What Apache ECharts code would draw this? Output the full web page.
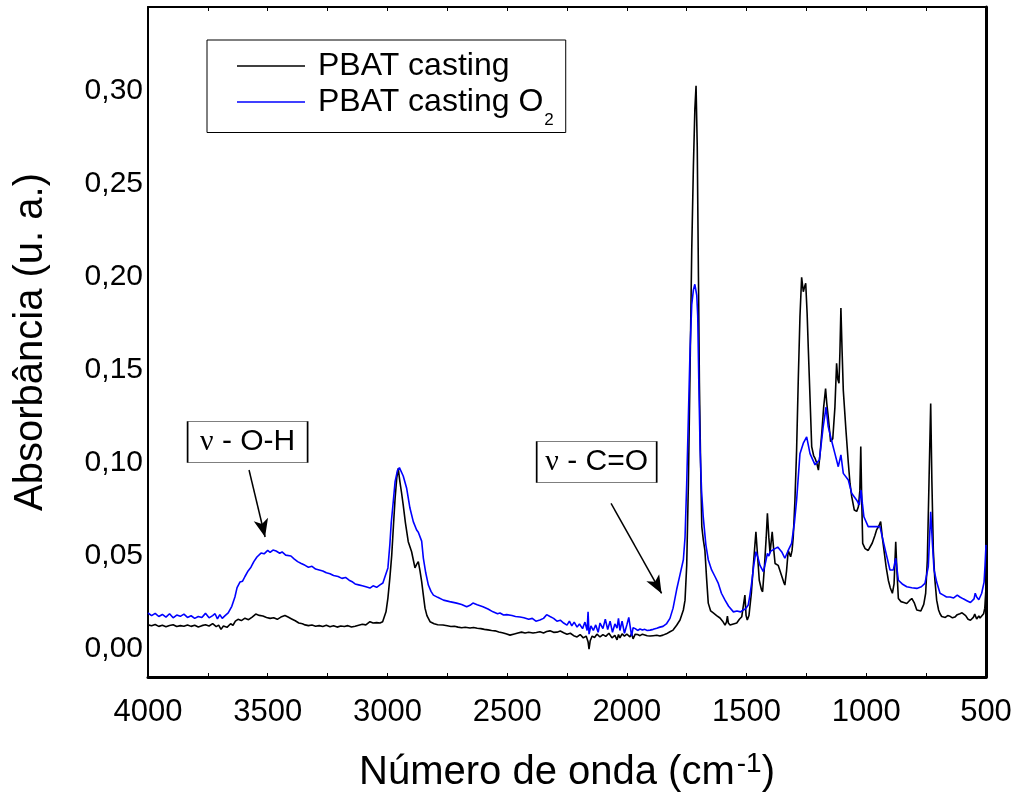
<!DOCTYPE html>
<html>
<head>
<meta charset="utf-8">
<title>FTIR PBAT</title>
<script src="https://cdn.jsdelivr.net/npm/echarts@6/dist/echarts.min.js"></script>
<style>
  html, body { margin: 0; padding: 0; background: #fff; }
  #chart { width: 1014px; height: 796px; }
</style>
</head>
<body>
<div id="chart"></div>
<script>
// FTIR spectra: [wavenumber (cm-1), absorbance]
const pbatCasting = [
  [4000,0.0130],[3985,0.0125],[3970,0.0132],[3955,0.0122],[3940,0.0128],[3925,0.0120],[3910,0.0127],
  [3895,0.0131],[3880,0.0121],[3865,0.0126],[3850,0.0123],[3835,0.0130],[3820,0.0122],[3805,0.0128],
  [3790,0.0119],[3775,0.0126],[3760,0.0131],[3745,0.0124],[3730,0.0137],[3715,0.0121],[3705,0.0129],
  [3695,0.0106],[3685,0.0124],[3670,0.0117],[3655,0.0136],[3645,0.0128],[3635,0.0150],[3624,0.0160],
  [3610,0.0153],[3595,0.0166],[3580,0.0158],[3565,0.0172],[3550,0.0188],[3535,0.0181],[3520,0.0178],
  [3505,0.0170],[3490,0.0165],[3475,0.0168],[3460,0.0160],[3445,0.0172],[3428,0.0180],[3415,0.0172],
  [3400,0.0162],[3385,0.0152],[3370,0.0140],[3355,0.0136],[3344,0.0130],[3330,0.0126],[3315,0.0129],
  [3300,0.0123],[3285,0.0126],[3270,0.0121],[3255,0.0128],[3240,0.0120],[3225,0.0125],[3210,0.0118],
  [3195,0.0124],[3180,0.0121],[3165,0.0126],[3150,0.0119],[3135,0.0123],[3120,0.0128],[3105,0.0133],
  [3090,0.0130],[3073,0.0147],[3060,0.0140],[3045,0.0142],[3031,0.0140],[3020,0.0147],[3014,0.0156],
  [3006,0.0200],[2998,0.0274],[2990,0.0380],[2982,0.0505],[2975,0.0660],[2968,0.0810],[2961,0.0920],
  [2955,0.0971],[2948,0.0900],[2941,0.0840],[2934,0.0774],[2925,0.0680],[2913,0.0577],[2906,0.0550],
  [2899,0.0523],[2892,0.0480],[2885,0.0436],[2878,0.0455],[2871,0.0470],[2864,0.0420],[2857,0.0362],
  [2850,0.0290],[2843,0.0220],[2835,0.0180],[2822,0.0147],[2805,0.0136],[2790,0.0131],[2768,0.0129],
  [2750,0.0125],[2735,0.0121],[2720,0.0123],[2705,0.0118],[2690,0.0115],[2675,0.0117],[2655,0.0113],
  [2640,0.0116],[2625,0.0112],[2610,0.0110],[2595,0.0106],[2580,0.0103],[2565,0.0100],[2550,0.0098],
  [2535,0.0092],[2520,0.0088],[2505,0.0082],[2488,0.0075],[2470,0.0081],[2455,0.0086],[2440,0.0091],
  [2425,0.0086],[2410,0.0090],[2392,0.0086],[2378,0.0089],[2363,0.0093],[2348,0.0087],[2335,0.0094],
  [2321,0.0098],[2306,0.0090],[2292,0.0091],[2278,0.0097],[2264,0.0088],[2250,0.0080],[2236,0.0085],
  [2222,0.0072],[2208,0.0065],[2195,0.0078],[2182,0.0060],[2170,0.0070],[2162,0.0040],[2158,0.0000],
  [2153,0.0045],[2145,0.0070],[2135,0.0062],[2125,0.0080],[2112,0.0065],[2100,0.0078],[2088,0.0068],
  [2075,0.0085],[2062,0.0060],[2050,0.0074],[2041,0.0050],[2035,0.0078],[2029,0.0060],[2020,0.0082],
  [2010,0.0070],[2000,0.0080],[1987,0.0066],[1980,0.0084],[1974,0.0055],[1965,0.0080],[1955,0.0078],
  [1945,0.0072],[1935,0.0080],[1925,0.0076],[1915,0.0072],[1903,0.0070],[1890,0.0072],[1875,0.0074],
  [1862,0.0070],[1849,0.0075],[1835,0.0082],[1820,0.0093],[1807,0.0102],[1792,0.0128],[1778,0.0156],
  [1764,0.0210],[1757,0.0263],[1750,0.0450],[1743,0.0890],[1736,0.1500],[1729,0.2145],[1722,0.2600],
  [1716,0.2900],[1711,0.3027],[1706,0.2700],[1701,0.2000],[1697,0.1430],[1692,0.1000],[1687,0.0658],
  [1681,0.0590],[1674,0.0530],[1667,0.0380],[1660,0.0247],[1650,0.0205],[1639,0.0194],[1625,0.0180],
  [1611,0.0167],[1600,0.0150],[1590,0.0129],[1584,0.0145],[1580,0.0177],[1576,0.0140],[1569,0.0129],
  [1555,0.0135],[1541,0.0140],[1530,0.0160],[1520,0.0174],[1512,0.0180],[1507,0.0290],[1502,0.0180],
  [1497,0.0156],[1490,0.0180],[1480,0.0300],[1470,0.0480],[1461,0.0630],[1454,0.0500],[1447,0.0370],
  [1438,0.0320],[1433,0.0308],[1425,0.0450],[1418,0.0600],[1413,0.0730],[1407,0.0600],[1402,0.0516],
  [1397,0.0580],[1393,0.0630],[1387,0.0540],[1381,0.0460],[1374,0.0455],[1368,0.0450],[1355,0.0400],
  [1345,0.0360],[1340,0.0344],[1333,0.0420],[1326,0.0530],[1320,0.0510],[1316,0.0496],[1310,0.0530],
  [1305,0.0603],[1298,0.0800],[1291,0.1070],[1284,0.1450],[1277,0.1787],[1270,0.1998],[1263,0.1920],
  [1258,0.1945],[1253,0.1966],[1247,0.1800],[1242,0.1608],[1235,0.1350],[1228,0.1088],[1220,0.1040],
  [1214,0.1025],[1207,0.1000],[1200,0.0962],[1193,0.1050],[1186,0.1160],[1178,0.1300],[1170,0.1400],
  [1165,0.1320],[1159,0.1249],[1149,0.1115],[1140,0.1130],[1131,0.1300],[1124,0.1536],[1119,0.1450],
  [1114,0.1428],[1110,0.1600],[1106,0.1832],[1101,0.1600],[1096,0.1390],[1085,0.1177],[1075,0.1000],
  [1068,0.0890],[1061,0.0820],[1050,0.0747],[1040,0.0740],[1033,0.0765],[1027,0.0850],[1023,0.1088],
  [1019,0.0800],[1015,0.0568],[1005,0.0540],[992,0.0530],[985,0.0523],[975,0.0570],[964,0.0610],
  [957,0.0640],[948,0.0660],[940,0.0685],[933,0.0600],[926,0.0530],[917,0.0440],[908,0.0370],
  [900,0.0330],[891,0.0300],[884,0.0350],[877,0.0577],[872,0.0420],[866,0.0272],[855,0.0255],
  [843,0.0250],[831,0.0245],[820,0.0260],[810,0.0272],[800,0.0250],[789,0.0210],[772,0.0205],
  [760,0.0240],[752,0.0300],[745,0.0480],[738,0.0900],[731,0.1320],[726,0.0900],[720,0.0530],
  [714,0.0380],[706,0.0263],[698,0.0210],[692,0.0190],[685,0.0175],[678,0.0174],[670,0.0170],
  [660,0.0180],[650,0.0176],[640,0.0168],[630,0.0172],[620,0.0185],[609,0.0190],[600,0.0195],
  [595,0.0200],[585,0.0180],[575,0.0160],[565,0.0155],[560,0.0147],[553,0.0170],[547,0.0188],
  [539,0.0162],[530,0.0178],[525,0.0167],[518,0.0170],[510,0.0190],[505,0.0220],[500,0.0330]
];

const pbatCastingO2 = [
  [4000,0.0194],[3985,0.0180],[3970,0.0192],[3955,0.0175],[3940,0.0186],[3925,0.0172],[3910,0.0190],
  [3895,0.0168],[3880,0.0183],[3865,0.0176],[3850,0.0188],[3835,0.0170],[3820,0.0179],[3805,0.0165],
  [3790,0.0175],[3775,0.0170],[3760,0.0192],[3745,0.0168],[3730,0.0180],[3720,0.0190],[3710,0.0162],
  [3700,0.0185],[3690,0.0165],[3678,0.0180],[3665,0.0195],[3650,0.0230],[3637,0.0280],[3628,0.0330],
  [3616,0.0360],[3605,0.0365],[3595,0.0390],[3582,0.0420],[3570,0.0440],[3558,0.0470],[3545,0.0495],
  [3528,0.0516],[3515,0.0512],[3500,0.0530],[3490,0.0520],[3478,0.0532],[3465,0.0527],[3450,0.0515],
  [3440,0.0522],[3425,0.0505],[3403,0.0500],[3390,0.0485],[3375,0.0470],[3360,0.0460],[3344,0.0450],
  [3330,0.0440],[3315,0.0445],[3300,0.0430],[3285,0.0425],[3270,0.0420],[3255,0.0410],[3240,0.0405],
  [3225,0.0395],[3206,0.0390],[3190,0.0380],[3175,0.0385],[3160,0.0370],[3145,0.0360],[3135,0.0350],
  [3120,0.0345],[3105,0.0340],[3090,0.0335],[3073,0.0328],[3060,0.0340],[3045,0.0332],[3031,0.0345],
  [3019,0.0355],[3010,0.0390],[2998,0.0436],[2990,0.0560],[2984,0.0680],[2977,0.0774],[2968,0.0900],
  [2958,0.0960],[2950,0.0975],[2943,0.0972],[2934,0.0930],[2920,0.0866],[2906,0.0758],[2892,0.0685],
  [2878,0.0640],[2871,0.0628],[2864,0.0630],[2857,0.0580],[2850,0.0489],[2840,0.0410],[2829,0.0344],
  [2818,0.0310],[2808,0.0290],[2790,0.0278],[2766,0.0263],[2740,0.0255],[2711,0.0247],[2690,0.0240],
  [2669,0.0227],[2655,0.0235],[2643,0.0247],[2625,0.0238],[2601,0.0227],[2580,0.0215],[2559,0.0200],
  [2540,0.0190],[2530,0.0194],[2515,0.0183],[2502,0.0185],[2480,0.0180],[2465,0.0175],[2446,0.0172],
  [2430,0.0168],[2410,0.0160],[2395,0.0165],[2380,0.0150],[2363,0.0156],[2348,0.0165],[2335,0.0185],
  [2321,0.0175],[2306,0.0165],[2292,0.0150],[2278,0.0155],[2264,0.0140],[2250,0.0129],[2240,0.0150],
  [2230,0.0125],[2220,0.0145],[2208,0.0118],[2198,0.0135],[2185,0.0110],[2175,0.0145],[2166,0.0100],
  [2162,0.0200],[2158,0.0080],[2150,0.0125],[2140,0.0100],[2130,0.0130],[2120,0.0090],[2112,0.0140],
  [2100,0.0110],[2090,0.0160],[2080,0.0105],[2070,0.0150],[2060,0.0090],[2050,0.0135],[2041,0.0113],
  [2035,0.0165],[2029,0.0100],[2020,0.0150],[2010,0.0085],[2000,0.0130],[1992,0.0170],[1987,0.0170],
  [1980,0.0070],[1974,0.0115],[1965,0.0110],[1955,0.0100],[1945,0.0108],[1935,0.0102],[1925,0.0106],
  [1915,0.0100],[1903,0.0102],[1890,0.0106],[1875,0.0112],[1862,0.0118],[1849,0.0122],[1835,0.0135],
  [1820,0.0165],[1807,0.0220],[1792,0.0320],[1778,0.0400],[1764,0.0480],[1757,0.0600],[1750,0.0890],
  [1743,0.1250],[1736,0.1610],[1729,0.1850],[1722,0.1930],[1716,0.1960],[1712,0.1960],[1708,0.1900],
  [1704,0.1790],[1699,0.1400],[1694,0.1070],[1688,0.0850],[1681,0.0710],[1670,0.0560],[1660,0.0480],
  [1646,0.0425],[1632,0.0390],[1618,0.0353],[1605,0.0300],[1590,0.0263],[1575,0.0230],[1555,0.0200],
  [1540,0.0205],[1525,0.0200],[1514,0.0210],[1505,0.0215],[1493,0.0237],[1486,0.0290],[1479,0.0353],
  [1470,0.0450],[1461,0.0523],[1452,0.0490],[1444,0.0450],[1430,0.0416],[1420,0.0470],[1413,0.0514],
  [1407,0.0500],[1400,0.0525],[1393,0.0520],[1381,0.0540],[1370,0.0548],[1363,0.0545],[1352,0.0520],
  [1340,0.0488],[1326,0.0530],[1312,0.0568],[1300,0.0680],[1291,0.0800],[1277,0.1050],[1263,0.1106],
  [1249,0.1140],[1235,0.1050],[1214,0.0990],[1196,0.1016],[1180,0.1195],[1168,0.1300],[1159,0.1195],
  [1144,0.1115],[1131,0.1050],[1117,0.0980],[1106,0.1043],[1096,0.0944],[1075,0.0908],[1061,0.0837],
  [1040,0.0800],[1029,0.0774],[1022,0.0855],[1016,0.0780],[1010,0.0711],[992,0.0658],[964,0.0658],
  [943,0.0658],[922,0.0540],[901,0.0425],[887,0.0425],[877,0.0488],[866,0.0370],[850,0.0350],
  [831,0.0335],[810,0.0330],[789,0.0326],[770,0.0335],[755,0.0353],[741,0.0443],[731,0.0738],
  [723,0.0550],[717,0.0425],[706,0.0360],[692,0.0300],[678,0.0290],[665,0.0280],[650,0.0280],
  [635,0.0275],[620,0.0290],[609,0.0280],[595,0.0270],[580,0.0260],[565,0.0250],[560,0.0245],
  [550,0.0270],[545,0.0300],[539,0.0280],[530,0.0265],[525,0.0272],[518,0.0300],[513,0.0300],
  [508,0.0360],[504,0.0450],[500,0.0560]
];

// axis ticks and labels
const yTickValues = [0, 0.05, 0.10, 0.15, 0.20, 0.25, 0.30];
const xRange = [500, 4000];
const yRange = [-0.015, 0.345];

// band annotations: label text, label anchor, arrow tail, arrow head
const bandLabels = [
  { text: 'O-H', at: [3584, 0.1113], from: [3578, 0.0962], to: [3511, 0.0602] },
  { text: 'C=O', at: [2126, 0.1005], from: [2066, 0.0783], to: [1855, 0.0299] }
];

const FONT = "'Liberation Sans', Arial, Helvetica, sans-serif";
const chart = echarts.init(document.getElementById('chart'), null, { renderer: 'canvas' });

const fmtComma = v => v.toFixed(2).replace('.', ',');

const option = {
  backgroundColor: '#ffffff',
  animation: false,
  grid: { left: 148, right: 28, top: 7, bottom: 119, outerBoundsMode: 'none' },
  legend: {
    left: 207, top: 40, orient: 'vertical',
    icon: 'rect',
    itemWidth: 68, itemHeight: 1.6, itemGap: 4,
    padding: [10, 12, 4, 30],
    borderColor: '#000', borderWidth: 1,
    selectedMode: false,
    textStyle: {
      color: '#000', fontFamily: FONT, fontSize: 32,
      rich: {
        t: { color: '#000', fontFamily: FONT, fontSize: 32, padding: [0, 0, 0, 8] },
        s: { color: '#000', fontFamily: FONT, fontSize: 17, padding: [36, 0, 0, 1] }
      }
    },
    formatter: name => name === 'PBAT casting O2' ? '{t|PBAT casting O}{s|2}' : '{t|' + name + '}',
    data: ['PBAT casting', 'PBAT casting O2']
  },
  xAxis: [
    {
      type: 'value', position: 'bottom', inverse: true,
      min: xRange[0], max: xRange[1], interval: 250,
      name: '{a|Número de onda (cm}{s|-1}{a|)}',
      nameLocation: 'middle', nameGap: 73,
      nameTextStyle: {
        rich: {
          a: { fontFamily: FONT, fontSize: 40, color: '#000' },
          s: { fontFamily: FONT, fontSize: 28, color: '#000', padding: [0, 0, 18, 2] }
        }
      },
      axisLine: { show: true, onZero: false, lineStyle: { color: '#000', width: 3 } },
      axisTick: { show: true, inside: true, length: 4, lineStyle: { color: '#000', width: 1 } },
      axisLabel: {
        show: true, margin: 20, color: '#000', fontFamily: FONT, fontSize: 31,
        formatter: v => (v % 500 === 0 ? String(v) : '')
      },
      splitLine: { show: false }
    },
    {
      type: 'value', position: 'top', inverse: true,
      min: xRange[0], max: xRange[1], interval: 250,
      axisLine: { show: true, onZero: false, lineStyle: { color: '#000', width: 2 } },
      axisTick: { show: true, inside: true, length: 4, lineStyle: { color: '#000', width: 1 } },
      axisLabel: { show: false },
      splitLine: { show: false }
    }
  ],
  yAxis: [
    {
      type: 'value', position: 'left',
      min: yRange[0], max: yRange[1],
      name: 'Absorbância (u. a.)',
      nameLocation: 'middle', nameGap: 97,
      nameTextStyle: { fontFamily: FONT, fontSize: 40, color: '#000' },
      axisLine: { show: true, onZero: false, lineStyle: { color: '#000', width: 2 } },
      axisTick: { show: false },
      axisLabel: {
        show: true, margin: 5, color: '#000', fontFamily: FONT, fontSize: 30,
        customValues: yTickValues, formatter: fmtComma
      },
      splitLine: { show: false }
    },
    {
      type: 'value', position: 'right',
      min: yRange[0], max: yRange[1],
      axisLine: { show: true, onZero: false, lineStyle: { color: '#000', width: 3 } },
      axisTick: { show: false },
      axisLabel: { show: false },
      splitLine: { show: false }
    }
  ],
  series: [
    {
      name: 'PBAT casting', type: 'line',
      xAxisIndex: 0, yAxisIndex: 0,
      data: pbatCasting,
      showSymbol: false, symbol: 'none', smooth: false,
      lineStyle: { color: '#000000', width: 1.6 },
      itemStyle: { color: '#000000' },
      z: 2
    },
    {
      name: 'PBAT casting O2', type: 'line',
      xAxisIndex: 0, yAxisIndex: 0,
      data: pbatCastingO2,
      showSymbol: false, symbol: 'none', smooth: false,
      lineStyle: { color: '#0000ff', width: 1.6 },
      itemStyle: { color: '#0000ff' },
      z: 3,
      markLine: {
        silent: true, animation: false,
        symbol: ['none', 'arrow'], symbolSize: [11, 18],
        lineStyle: { color: '#000', width: 1.5, type: 'solid' },
        label: { show: false },
        data: bandLabels.map(b => [{ coord: b.from }, { coord: b.to }])
      },
      markPoint: {
        silent: true, animation: false,
        data: bandLabels.map(b => ({
          coord: b.at,
          symbol: 'rect', symbolSize: [120, 41],
          itemStyle: { color: '#fff', borderColor: '#000', borderWidth: 1 },
          label: {
            show: true, position: 'inside',
            formatter: '{g|ν}{r| - ' + b.text + '}',
            rich: {
              g: { fontFamily: "'Liberation Serif', 'DejaVu Serif', serif", fontSize: 30, color: '#000' },
              r: { fontFamily: FONT, fontSize: 30, color: '#000' }
            }
          }
        }))
      }
    }
  ]
};

chart.setOption(option);
</script>
</body>
</html>
